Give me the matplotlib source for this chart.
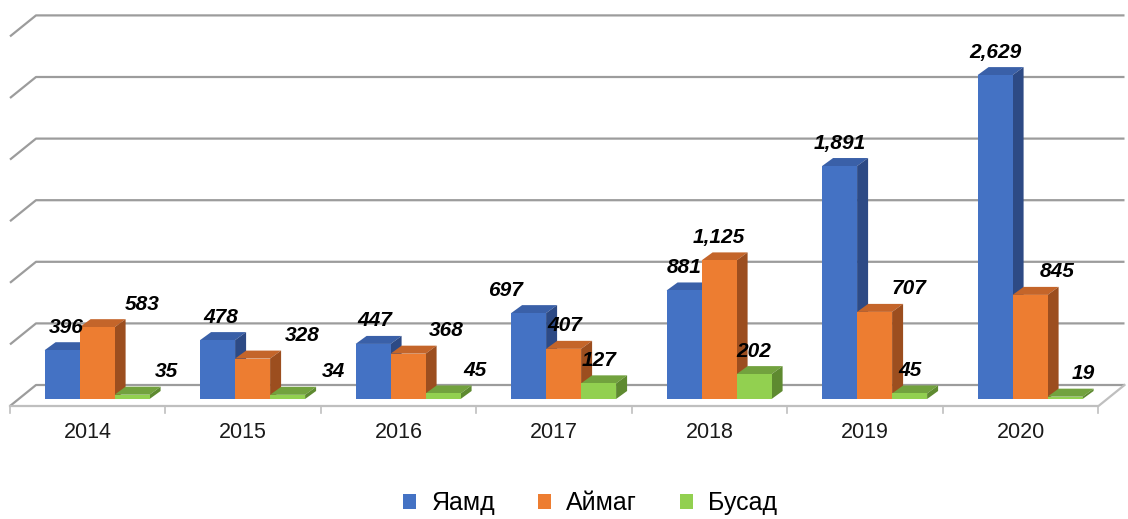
import numpy as np
import matplotlib
matplotlib.use("Agg")
import matplotlib.pyplot as plt
from matplotlib.patches import Polygon, Patch

plt.rcParams['font.family'] = ['Liberation Sans', 'DejaVu Sans']

years = ["2014", "2015", "2016", "2017", "2018", "2019", "2020"]
series = ["Яамд", "Аймаг", "Бусад"]
yaamd = [396, 478, 447, 697, 881, 1891, 2629]
aimag = [583, 328, 368, 407, 1125, 707, 845]
busad = [35, 34, 45, 127, 202, 45, 19]
values = [yaamd, aimag, busad]

# face colours: front, top, side
front_c = ["#4472C4", "#ED7D31", "#92D050"]
top_c = ["#3A60A8", "#C4652A", "#72A23E"]
side_c = ["#2D4A85", "#9C4E1F", "#5E8A30"]

# manual label nudges (px to the right), like the hand placed labels
label_dx = [[4, 3, 2, -23, 0, 0, 0],
            [45, 50, 38, 1, 0, 34, 27],
            [34, 46, 32, 1, 0, 0, 18]]

# pixel scale of the fake 3d view
PXX = 155.5      # px per category
PXY = 0.1232     # px per value unit
W, H = 1128, 519
BASE = 399       # px row of the bar fronts' base


def dx(p):
    return p / PXX


def dy(p):
    return p / PXY


fig = plt.figure(figsize=(W / 100, H / 100), dpi=100)
ax = fig.add_axes([0, 0, 1, 1])
ax.set_xlim(-0.5 - dx(10), -0.5 + dx(W - 10))
ax.set_ylim(-dy(H - BASE), dy(BASE))
ax.axis("off")

x = np.arange(len(years))
grid_c = "#9C9C9C"
depth_x, depth_y = dx(26), dy(21)
floor_front = -dy(7)
back0 = dy(14)

# back wall gridlines with the left wall slant
for v in range(0, 3001, 500):
    yb = v + back0
    ax.plot([-0.5, -0.5 + depth_x, 6.5 + depth_x], [yb - depth_y, yb, yb],
            color=grid_c, lw=1.6, zorder=1, solid_capstyle="butt")

# floor front and right edges
ax.plot([-0.5, 6.5, 6.5 + depth_x], [floor_front, floor_front, back0],
        color="#BFBFBF", lw=1.6, zorder=1)
for b in np.arange(-0.5, 7, 1):
    ax.plot([b, b], [floor_front, floor_front - dy(7)], color="#BFBFBF", lw=1.2, zorder=1)

for i, yr in enumerate(years):
    ax.text(i, -dy(33), yr, ha="center", va="center", fontsize=15.5, color="#1a1a1a")

# bars
bw = dx(35)
offs = [-0.165 + k * bw for k in range(3)]
bx, by = dx(11), dy(8)
z = 2
for i in range(len(years)):
    for s in range(3):
        v = values[s][i]
        bars = ax.bar(x[i] + offs[s], v, width=bw, color=front_c[s], linewidth=0)
        left = x[i] + offs[s] - bw / 2
        right = left + bw
        top = Polygon([(left, v), (right, v), (right + bx, v + by), (left + bx, v + by)],
                      closed=True, facecolor=top_c[s], edgecolor="none", zorder=z)
        side = Polygon([(right, 0), (right, v), (right + bx, v + by), (right + bx, by)],
                       closed=True, facecolor=side_c[s], edgecolor="none", zorder=z)
        ax.add_patch(top)
        ax.add_patch(side)
        bars.patches[0].set_zorder(z + 1)
        z += 2

for s in range(3):
    for i in range(len(years)):
        v = values[s][i]
        ax.text(x[i] + offs[s] + dx(label_dx[s][i]), v + dy(23), f"{v:,}",
                ha="center", va="center", fontsize=15, fontweight="bold",
                fontstyle="italic", color="black", zorder=100)

handles = [Patch(facecolor=c, edgecolor="none") for c in front_c]
fig.legend(handles, series, loc="center", bbox_to_anchor=(590 / W, 16 / H),
           ncol=3, frameon=False, fontsize=18, handlelength=0.55, handleheight=0.55,
           handletextpad=0.6, columnspacing=1.7)

fig.savefig("out.png", dpi=100)
